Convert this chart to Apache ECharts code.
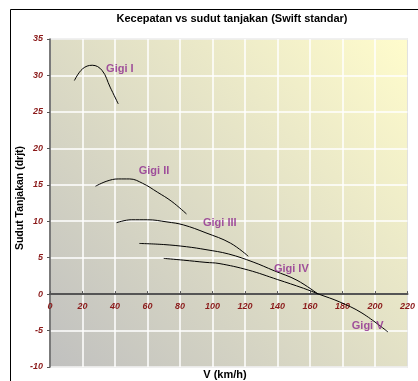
<!DOCTYPE html>
<html>
<head>
<meta charset="utf-8">
<script src="https://cdn.jsdelivr.net/npm/echarts@6/dist/echarts.min.js"></script>
<style>
  html, body { margin: 0; padding: 0; background: #fff; }
  #chart { width: 418px; height: 381px; }
</style>
</head>
<body>
<div id="chart"></div>
<script>
// kecepatan (km/h) dan sudut tanjakan (derajat) per gigi
const gigi1V = [15, 20, 26, 32, 37, 42];
const gigi1S = [29.3, 30.9, 31.4, 30.7, 28.4, 26.1];
const gigi2V = [28, 35, 42, 49, 57, 66, 75, 84];
const gigi2S = [14.8, 15.5, 15.8, 15.8, 15.2, 14.0, 12.7, 11.0];
const gigi3V = [41, 50, 60, 72, 82, 96, 111, 122];
const gigi3S = [9.8, 10.2, 10.2, 9.9, 9.5, 8.4, 7.0, 5.2];
const gigi4V = [55, 70, 84, 96, 110, 125, 138, 152, 165];
const gigi4S = [6.95, 6.8, 6.5, 6.1, 5.5, 4.4, 3.2, 1.9, 0];
const gigi5V = [70, 82, 96, 104, 122, 140, 156, 166, 178, 192, 208];
const gigi5S = [4.9, 4.66, 4.35, 4.2, 3.3, 2.0, 0.8, -0.05, -1.05, -2.6, -5.2];

const gearNames = ['Gigi I', 'Gigi II', 'Gigi III', 'Gigi IV', 'Gigi V'];
const labelV = [43, 64, 104.5, 148.5, 195.5];
const labelS = [30.9, 16.9, 9.7, 3.4, -4.4];

const xTicks = { min: 0, max: 220, step: 20 };
const yTicks = { min: -10, max: 35, step: 5 };

const gearV = [gigi1V, gigi2V, gigi3V, gigi4V, gigi5V];
const gearS = [gigi1S, gigi2S, gigi3S, gigi4S, gigi5S];

const tickColor = '#8b1a1a';
const labelColor = '#8e2a8e';
const axisFont = 'Liberation Sans, Arial, sans-serif';

const gridH = 328;
// sumbu X memotong di sudut 0, bukan di bawah
const zeroOffset = -gridH * (0 - yTicks.min) / (yTicks.max - yTicks.min);

let chart = echarts.init(document.getElementById('chart'));

let series = gearV.map((vs, i) => ({
    name: gearNames[i],
    type: 'line',
    data: vs.map((v, j) => [v, gearS[i][j]]),
    smooth: 0.4,
    showSymbol: false,
    lineStyle: { color: '#000', width: 1 },
    z: 3,
}));

series.push({
    type: 'scatter',
    symbolSize: 0,
    data: gearNames.map((n, i) => ({ name: n, value: [labelV[i], labelS[i]] })),
    label: {
        show: true,
        position: 'inside',
        formatter: (p) => p.name,
        color: labelColor,
        fontFamily: axisFont,
        fontWeight: 'bold',
        fontSize: 11,
    },
    z: 4,
});

let option = {
    animation: false,
    backgroundColor: '#fff',
    grid: {
        left: 50,
        top: 39,
        width: 367,
        height: gridH,
        show: true,
        borderColor: '#888',
        borderWidth: 1,
        backgroundColor: {
            type: 'linear',
            x: 0, y: 1, x2: 1, y2: 0,
            colorStops: [
                { offset: 0, color: '#c0c0bf' },
                { offset: 1, color: '#fffccc' },
            ],
        },
    },
    xAxis: {
        type: 'value',
        min: xTicks.min,
        max: xTicks.max,
        interval: xTicks.step,
        offset: zeroOffset,
        axisLine: { onZero: false, lineStyle: { color: '#555', width: 2 } },
        axisTick: { show: true, inside: true, length: 3, lineStyle: { color: '#555' } },
        axisLabel: {
            color: tickColor,
            fontFamily: axisFont,
            fontWeight: 'bold',
            fontStyle: 'italic',
            fontSize: 9,
            margin: 8,
            showMaxLabel: true,
        },
        splitLine: { show: true, lineStyle: { color: '#fff', width: 1.5 } },
    },
    yAxis: {
        type: 'value',
        min: yTicks.min,
        max: yTicks.max,
        interval: yTicks.step,
        axisLine: { show: true, onZero: false, lineStyle: { color: '#555', width: 1.5 } },
        axisTick: { show: true, length: 3, lineStyle: { color: '#555' } },
        axisLabel: {
            color: tickColor,
            fontFamily: axisFont,
            fontWeight: 'bold',
            fontStyle: 'italic',
            fontSize: 9,
            margin: 7,
        },
        splitLine: { show: true, lineStyle: { color: '#fff', width: 1.5 } },
    },
    graphic: [
        {
            type: 'rect',
            shape: { x: 10.5, y: 9.5, width: 600, height: 600 },
            style: { fill: 'none', stroke: '#000', lineWidth: 1 },
            silent: true,
            z: -10,
        },
        {
            type: 'text',
            x: 232, y: 19,
            style: {
                text: 'Kecepatan vs sudut tanjakan (Swift standar)',
                textAlign: 'center', textVerticalAlign: 'middle',
                font: 'bold 11px ' + axisFont, fill: '#000',
            },
        },
        {
            type: 'text',
            x: 225, y: 375,
            style: {
                text: 'V (km/h)',
                textAlign: 'center', textVerticalAlign: 'middle',
                font: 'bold 11px ' + axisFont, fill: '#000',
            },
        },
        {
            type: 'text',
            x: 20, y: 198,
            rotation: Math.PI / 2,
            style: {
                text: 'Sudut Tanjakan (drjt)',
                textAlign: 'center', textVerticalAlign: 'middle',
                font: 'bold 10.5px ' + axisFont, fill: '#000',
            },
        },
    ],
    series: series,
};

chart.setOption(option);
</script>
</body>
</html>
